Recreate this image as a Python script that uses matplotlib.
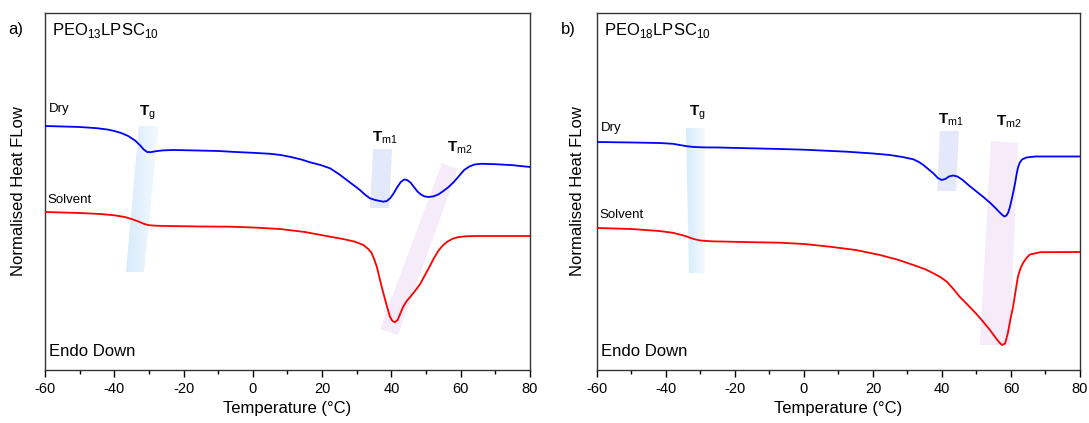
import numpy as np
import matplotlib
matplotlib.use('Agg')
import matplotlib.pyplot as plt
from matplotlib.patches import Polygon
from matplotlib.ticker import MultipleLocator

plt.rcParams['font.family'] = ['Liberation Sans', 'DejaVu Sans']
plt.rcParams['mathtext.fontset'] = 'custom'
plt.rcParams['mathtext.rm'] = 'Liberation Sans'
plt.rcParams['mathtext.bf'] = 'Liberation Sans:bold'
plt.rcParams['axes.unicode_minus'] = False

# DSC traces, heat flow in normalised arbitrary units
t_dry_a = [-60, -55, -50, -45, -42, -40, -38, -36, -34, -32.5, -31.5, -30.5, -29.5, -28, -26,
           -23, -20, -10, -5, 0, 5, 8, 11, 14, 16.5, 19.5, 22.3, 25, 27.1, 29, 30.9, 32.5,
           33.8, 35.3, 36.7, 37.7, 38.7, 39.7, 40.7, 41.7, 42.7, 43.7, 44.5, 45.5, 46.5,
           47.5, 48.5, 49.5, 50.6, 52, 53.5, 55, 56.5, 58, 59.5, 61, 62.5, 64, 66, 70, 75, 80]
hf_dry_a = [2.44, 2.435, 2.43, 2.418, 2.405, 2.39, 2.37, 2.34, 2.295, 2.245, 2.205, 2.18,
            2.178, 2.188, 2.196, 2.20, 2.198, 2.19, 2.18, 2.172, 2.162, 2.15, 2.13, 2.105,
            2.077, 2.05, 2.017, 1.955, 1.90, 1.85, 1.80, 1.75, 1.717, 1.70, 1.69, 1.683,
            1.69, 1.72, 1.77, 1.83, 1.88, 1.905, 1.90, 1.875, 1.83, 1.785, 1.755, 1.737,
            1.73, 1.735, 1.755, 1.79, 1.83, 1.88, 1.94, 2.0, 2.035, 2.055, 2.062, 2.058,
            2.048, 2.03]

t_sol_a = [-60, -50, -44, -40, -37, -35, -33, -31.5, -30, -28, -25, -15, -6.6, 0, 7.8, 15,
           22.3, 26, 29.5, 31.9, 33.3, 34.3, 35.1, 35.8, 36.7, 37.5, 38.2, 39, 39.6, 40.3,
           41, 41.8, 42.5, 43.4, 44.4, 45.4, 46.8, 48.3, 49.7, 51.1, 52.3, 53.5, 54.8, 56.2,
           57.8, 59.5, 62, 65, 80]
hf_sol_a = [1.58, 1.57, 1.56, 1.547, 1.53, 1.51, 1.485, 1.462, 1.448, 1.443, 1.44, 1.435,
            1.433, 1.425, 1.41, 1.38, 1.333, 1.31, 1.283, 1.25, 1.21, 1.17, 1.10, 1.03,
            0.90, 0.79, 0.70, 0.60, 0.53, 0.49, 0.478, 0.50, 0.56, 0.633, 0.69, 0.73, 0.79,
            0.86, 0.95, 1.04, 1.12, 1.19, 1.245, 1.285, 1.315, 1.33, 1.338, 1.34, 1.34]

t_dry_b = [-60, -50, -42, -38, -36, -34, -32, -29, -25, -7, 0, 12.4, 20, 24.9, 28.5, 31.7,
           33.3, 34.6, 36, 37.5, 38.8, 39.9, 41, 42, 43.2, 44.5, 46, 48, 50, 52, 54, 55.5,
           56.6, 57.5, 58.1, 58.7, 59.2, 59.7, 60.3, 60.8, 61.2, 61.6, 62, 62.5, 63.2, 64.5,
           67, 80]
hf_dry_b = [2.28, 2.275, 2.27, 2.262, 2.25, 2.238, 2.23, 2.226, 2.225, 2.21, 2.203, 2.183,
            2.165, 2.15, 2.13, 2.107, 2.08, 2.05, 2.01, 1.967, 1.92, 1.90, 1.91, 1.935, 1.945,
            1.935, 1.90, 1.84, 1.785, 1.73, 1.67, 1.62, 1.58, 1.55, 1.535, 1.545, 1.575,
            1.63, 1.72, 1.80, 1.87, 1.95, 2.02, 2.07, 2.105, 2.125, 2.135, 2.135]

t_sol_b = [-60, -50, -42, -38, -36, -34, -32, -30, -27, -15, -7, 0, 7.5, 15, 22, 27, 31.7,
           35, 37.5, 39.5, 41.4, 43.3, 45.2, 47.5, 50, 52, 53.9, 55.3, 56.5, 57.4, 58.3, 59.1,
           59.8, 60.6, 61.3, 62, 62.7, 63.5, 64.5, 65.5, 68.5, 80]
hf_sol_b = [1.42, 1.41, 1.39, 1.372, 1.355, 1.335, 1.31, 1.295, 1.287, 1.278, 1.273, 1.26,
            1.233, 1.20, 1.15, 1.105, 1.05, 1.01, 0.967, 0.93, 0.883, 0.81, 0.73, 0.65, 0.56,
            0.48, 0.40, 0.335, 0.28, 0.25, 0.265, 0.37, 0.50, 0.63, 0.78, 0.93, 1.01, 1.07,
            1.12, 1.155, 1.178, 1.18]

panels = [
    dict(tag='a)', name=r'PEO$_{13}$LPSC$_{10}$', t_dry=t_dry_a, dry=hf_dry_a,
         t_sol=t_sol_a, sol=hf_sol_a, dry_y=2.61, sol_y=1.70, ylab_x=-0.039,
         tg=[(-32.9, 2.44), (-27.1, 2.44), (-31.4, 0.98), (-36.6, 0.98)],
         tm1=[(34.7, 2.21), (40.2, 2.21), (39.3, 1.62), (33.8, 1.62)],
         tm2=[(54.6, 2.07), (59.2, 2.01), (41.9, 0.35), (36.7, 0.41)],
         tg_lbl=(-30.3, 2.57), tm1_lbl=(38.2, 2.32), tm2_lbl=(59.8, 2.22)),
    dict(tag='b)', name=r'PEO$_{18}$LPSC$_{10}$', t_dry=t_dry_b, dry=hf_dry_b,
         t_sol=t_sol_b, sol=hf_sol_b, dry_y=2.42, sol_y=1.55, ylab_x=-0.025,
         tg=[(-34.2, 2.42), (-28.7, 2.42), (-28.7, 0.97), (-33.3, 0.97)],
         tm1=[(39.4, 2.39), (44.9, 2.39), (44.1, 1.79), (38.6, 1.79)],
         tm2=[(54.2, 2.29), (62.0, 2.27), (59.7, 0.25), (51.0, 0.25)],
         tg_lbl=(-31.0, 2.57), tm1_lbl=(42.6, 2.50), tm2_lbl=(59.4, 2.48)),
]

fig = plt.figure(figsize=(10.89, 4.23), dpi=100)
axes = [fig.add_axes([0.0413, 0.1253, 0.4454, 0.844]),
        fig.add_axes([0.5482, 0.1253, 0.4435, 0.844])]

# horizontal gradient: light blue fading to white
grad = np.linspace(0, 1, 256).reshape(1, -1)
blue_fade = matplotlib.colors.LinearSegmentedColormap.from_list(
    'fade', ['#cfe8fb', '#f4f9fe'])

for ax, p in zip(axes, panels):
    ax.set_xlim(-60, 80)
    ax.set_ylim(0, 3.57)

    # Tg band with gradient
    poly = Polygon(p['tg'], closed=True, facecolor='none', edgecolor='none')
    ax.add_patch(poly)
    xs = [v[0] for v in p['tg']]
    ys = [v[1] for v in p['tg']]
    im = ax.imshow(grad, cmap=blue_fade, aspect='auto', alpha=0.85,
                   extent=[min(xs), max(xs), min(ys), max(ys)], zorder=1)
    im.set_clip_path(poly)

    ax.add_patch(Polygon(p['tm1'], closed=True, facecolor='#dfe4fb',
                         edgecolor='none', alpha=0.85, zorder=1))
    ax.add_patch(Polygon(p['tm2'], closed=True, facecolor='#f4e9f9',
                         edgecolor='none', alpha=0.9, zorder=1))

    ax.plot(p['t_dry'], p['dry'], color='#0000ff', lw=1.3, zorder=3)
    ax.plot(p['t_sol'], p['sol'], color='#ff0000', lw=1.3, zorder=3)

    ax.text(-58.8, p['dry_y'], 'Dry', fontsize=9.5, va='center', ha='left')
    ax.text(-59.3, p['sol_y'], 'Solvent', fontsize=9.5, va='center', ha='left')
    ax.text(-58.8, 0.18, 'Endo Down', fontsize=12, va='center', ha='left')
    ax.text(0.015, 0.952, p['name'], transform=ax.transAxes, fontsize=12,
            va='center', ha='left')
    ax.text(-0.075, 0.955, p['tag'], transform=ax.transAxes, fontsize=12,
            va='center', ha='left')

    ax.text(*p['tg_lbl'], r'$\mathbf{T}_{\mathrm{g}}$', fontsize=11, ha='center', va='center')
    ax.text(*p['tm1_lbl'], r'$\mathbf{T}_{\mathrm{m1}}$', fontsize=11, ha='center', va='center')
    ax.text(*p['tm2_lbl'], r'$\mathbf{T}_{\mathrm{m2}}$', fontsize=11, ha='center', va='center')

    ax.xaxis.set_major_locator(MultipleLocator(20))
    ax.xaxis.set_minor_locator(MultipleLocator(10))
    ax.tick_params(axis='x', which='major', direction='out', length=5, width=1,
                   labelsize=10.5)
    ax.tick_params(axis='x', which='minor', direction='out', length=3, width=1)
    ax.set_yticks([])
    ax.set_xlabel('Temperature (°C)', fontsize=12)
    ax.set_ylabel('Normalised Heat FLow', fontsize=12)
    ax.yaxis.set_label_coords(p['ylab_x'], 0.5)
    for s in ax.spines.values():
        s.set_linewidth(1.0)
        s.set_color('#333333')

fig.savefig('out.png', dpi=100)
